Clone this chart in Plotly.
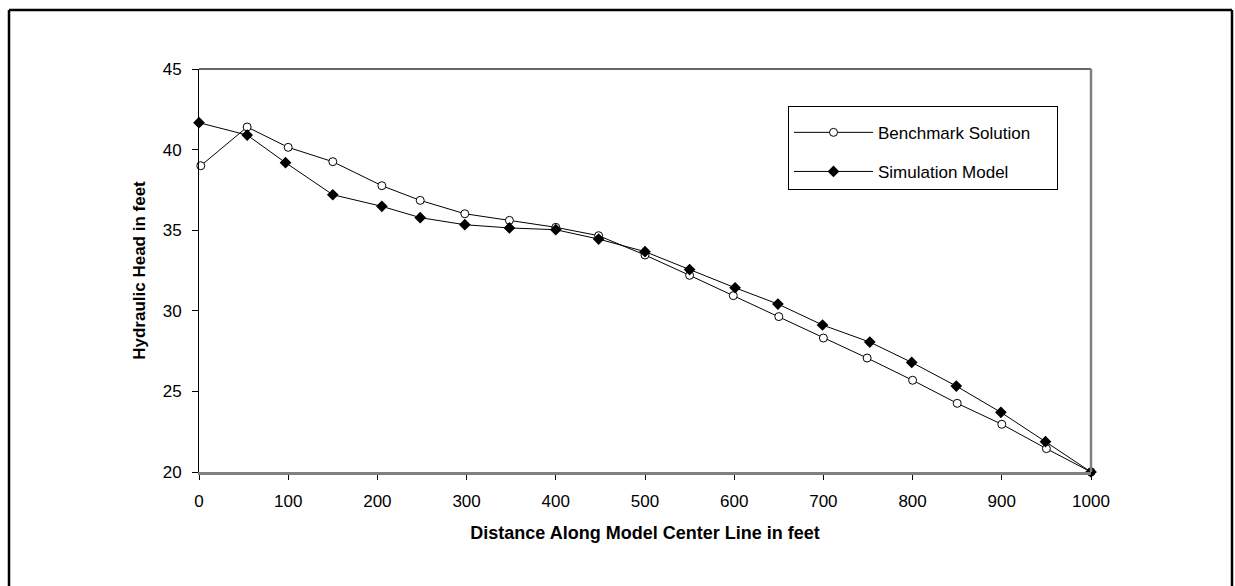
import plotly.graph_objects as go

# ---- data ----
bench_x = [2, 54, 100, 150, 205, 248, 298, 348, 400, 448, 500,
           550, 599, 650, 700, 749, 800, 850, 900, 950, 1000]
bench_y = [39.0, 41.4, 40.14, 39.25, 37.76, 36.85, 36.02, 35.61, 35.18, 34.66, 33.46,
           32.2, 30.94, 29.64, 28.31, 27.07, 25.69, 24.26, 22.96, 21.45, 20.0]

sim_x = [0, 54, 97, 150, 205, 248, 298, 348, 400, 448, 500,
         550, 601, 649, 699, 752, 799, 849, 899, 949, 1000]
sim_y = [41.67, 40.9, 39.19, 37.2, 36.48, 35.78, 35.34, 35.14, 35.03, 34.45, 33.67,
         32.56, 31.43, 30.42, 29.12, 28.06, 26.8, 25.33, 23.7, 21.88, 20.0]

x_ticks = [0, 100, 200, 300, 400, 500, 600, 700, 800, 900, 1000]
y_ticks = [20, 25, 30, 35, 40, 45]

x_title = "Distance Along Model Center Line in feet"
y_title = "Hydraulic Head in feet"
names = ["Benchmark Solution", "Simulation Model"]

# ---- layout constants ----
W, H = 1235, 586
L, R, T, B = 199, 1091, 69, 472
FONT = "Arial, Liberation Sans, sans-serif"
PW, PH = R - L, B - T


def px_x(p):
    return (p - L) / PW


def px_y(p):
    return (B - p) / PH


fig = go.Figure()
fig.add_trace(go.Scatter(
    x=bench_x, y=bench_y, mode="lines+markers", name=names[0],
    legendgroup="a", cliponaxis=False,
    line=dict(color="black", width=1),
    marker=dict(symbol="circle", size=8, color="white",
                line=dict(color="black", width=1)),
))
fig.add_trace(go.Scatter(
    x=sim_x, y=sim_y, mode="lines+markers", name=names[1],
    legendgroup="b", cliponaxis=False,
    line=dict(color="black", width=1),
    marker=dict(symbol="diamond", size=9, color="black",
                line=dict(color="black", width=0)),
))

fig.update_layout(
    width=W, height=H,
    margin=dict(l=L, r=W - R, t=T, b=H - B, pad=0),
    paper_bgcolor="white", plot_bgcolor="white",
    font=dict(family=FONT, size=17, color="black"),
    showlegend=True,
    legend=dict(
        x=px_x(788), y=px_y(106), xanchor="left", yanchor="top",
        bgcolor="white", bordercolor="black", borderwidth=1,
        font=dict(family=FONT, size=17, color="black"),
        itemwidth=79, tracegroupgap=14,
        # invisible spacer title: gives the box its top padding and width
        title=dict(text="\u00a0" * 158, font=dict(size=6)),
    ),
    xaxis=dict(
        range=[0, 1000], tickvals=x_ticks, ticktext=[str(v) for v in x_ticks],
        showgrid=False, zeroline=False,
        showline=True, linecolor="#808080", linewidth=3,
        ticks="outside", ticklen=5, tickcolor="black", tickwidth=1,
        ticklabelstandoff=7,
        tickfont=dict(family=FONT, size=17),
        title=dict(text="<b>" + x_title + "</b>", standoff=16,
                   font=dict(family=FONT, size=18)),
    ),
    yaxis=dict(
        range=[20, 45], tickvals=y_ticks, ticktext=[str(v) for v in y_ticks],
        showgrid=False, zeroline=False,
        showline=True, linecolor="black", linewidth=1,
        ticks="outside", ticklen=6, tickcolor="black", tickwidth=1,
        ticklabelstandoff=7,
        tickfont=dict(family=FONT, size=17),
        title=dict(text="<b>" + y_title + "</b>", standoff=12,
                   font=dict(family=FONT, size=17)),
    ),
    shapes=[
        # top border of plot area
        dict(type="line", xref="paper", yref="paper", x0=0, x1=1, y0=1, y1=1,
             line=dict(color="#333333", width=1.5), layer="above"),
        # right border of plot area
        dict(type="line", xref="paper", yref="paper", x0=1, x1=1, y0=0, y1=1,
             line=dict(color="#808080", width=2.5), layer="above"),
        # outer frame
        dict(type="line", xref="paper", yref="paper",
             x0=px_x(9), x1=px_x(9), y0=px_y(10), y1=px_y(600),
             line=dict(color="black", width=2.5)),
        dict(type="line", xref="paper", yref="paper",
             x0=px_x(9), x1=px_x(1232), y0=px_y(10), y1=px_y(10),
             line=dict(color="black", width=2.5)),
        dict(type="line", xref="paper", yref="paper",
             x0=px_x(1232), x1=px_x(1232), y0=px_y(10), y1=px_y(600),
             line=dict(color="black", width=2.5)),
    ],
)

fig.write_html(
    "out.html",
    config={"displayModeBar": False},
    post_script="document.body.style.margin='0px';document.body.style.overflow='hidden';",
)
